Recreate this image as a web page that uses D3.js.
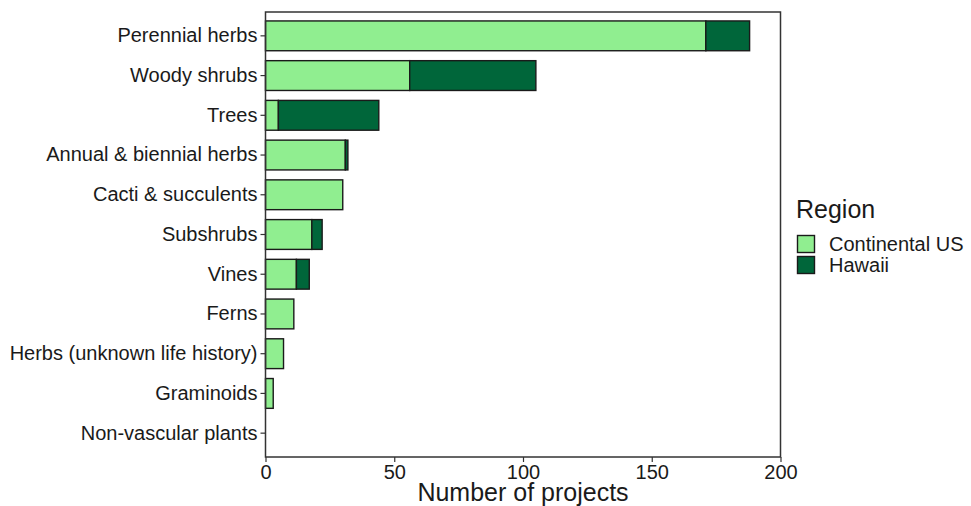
<!DOCTYPE html>
<html>
<head>
<meta charset="utf-8">
<script src="https://cdn.jsdelivr.net/npm/d3@7"></script>
<style>
body{margin:0;background:#fff;}
svg{display:block;font-family:"Liberation Sans",Arial,sans-serif;}
</style>
</head>
<body>
<svg id="chart" width="971" height="506"></svg>
<script>
const categories = ["Perennial herbs","Woody shrubs","Trees","Annual & biennial herbs","Cacti & succulents","Subshrubs","Vines","Ferns","Herbs (unknown life history)","Graminoids","Non-vascular plants"];
const continentalUS = [171,56,5,31,30,18,12,11,7,3,0];
const hawaii = [17,49,39,1,0,4,5,0,0,0,0];
const seriesNames = ["Continental US","Hawaii"];
const xTicks = [0,50,100,150,200];

const colors = ["#90EE90","#00663A"];
const svg = d3.select("#chart");
const m = {left:265.5, right:780.5, top:12, bottom:457};

const x = d3.scaleLinear().domain([0,200]).range([m.left, m.right]);
const y = d3.scaleBand().domain(categories).range([m.top, m.bottom]).paddingInner(0.25).paddingOuter(0.225);

const rows = categories.map((c,i)=>({cat:c, "Continental US":continentalUS[i], "Hawaii":hawaii[i]}));
const stack = d3.stack().keys(seriesNames)(rows);

stack.forEach((s,si)=>{
  svg.append("g").selectAll("rect").data(s.filter(d=>d[1]-d[0]>0)).join("rect")
    .attr("x", d=>x(d[0]))
    .attr("y", d=>y(d.data.cat))
    .attr("width", d=>x(d[1])-x(d[0]))
    .attr("height", y.bandwidth())
    .attr("fill", colors[si])
    .attr("stroke", "#1a1a1a")
    .attr("stroke-width", 1.4);
});

// panel border
svg.append("rect").attr("x", m.left).attr("y", m.top).attr("width", m.right-m.left).attr("height", m.bottom-m.top)
  .attr("fill","none").attr("stroke","#333").attr("stroke-width",1.5);

// x axis
const xAxis = svg.append("g").attr("transform",`translate(0,${m.bottom})`)
  .call(d3.axisBottom(x).tickValues(xTicks).tickSize(5).tickPadding(3));
xAxis.select(".domain").remove();
xAxis.selectAll(".tick line").attr("stroke","#333").attr("stroke-width",1.2);
xAxis.selectAll(".tick text").attr("font-size",20).attr("fill","#1a1a1a").attr("font-family","Liberation Sans, Arial, sans-serif");

// y axis
const yAxis = svg.append("g").attr("transform",`translate(${m.left},0)`)
  .call(d3.axisLeft(y).tickSize(5).tickPadding(3));
yAxis.select(".domain").remove();
yAxis.selectAll(".tick line").attr("stroke","#333").attr("stroke-width",1.2);
yAxis.selectAll(".tick text").attr("font-size",20).attr("fill","#1a1a1a").attr("font-family","Liberation Sans, Arial, sans-serif");

// x title
svg.append("text").attr("x",(m.left+m.right)/2).attr("y",501).attr("text-anchor","middle")
  .attr("font-size",25).attr("fill","#1a1a1a").text("Number of projects");

// legend
const lg = svg.append("g");
lg.append("text").attr("x",796).attr("y",218).attr("font-size",25).attr("fill","#1a1a1a").text("Region");
seriesNames.forEach((n,i)=>{
  const yy = 235.5 + i*21;
  lg.append("rect").attr("x",797.5).attr("y",yy).attr("width",17).attr("height",17)
    .attr("fill",colors[i]).attr("stroke","#1a1a1a").attr("stroke-width",1.4);
  lg.append("text").attr("x",829).attr("y",yy+15.5).attr("font-size",20).attr("fill","#1a1a1a").text(n);
});
</script>
</body>
</html>
